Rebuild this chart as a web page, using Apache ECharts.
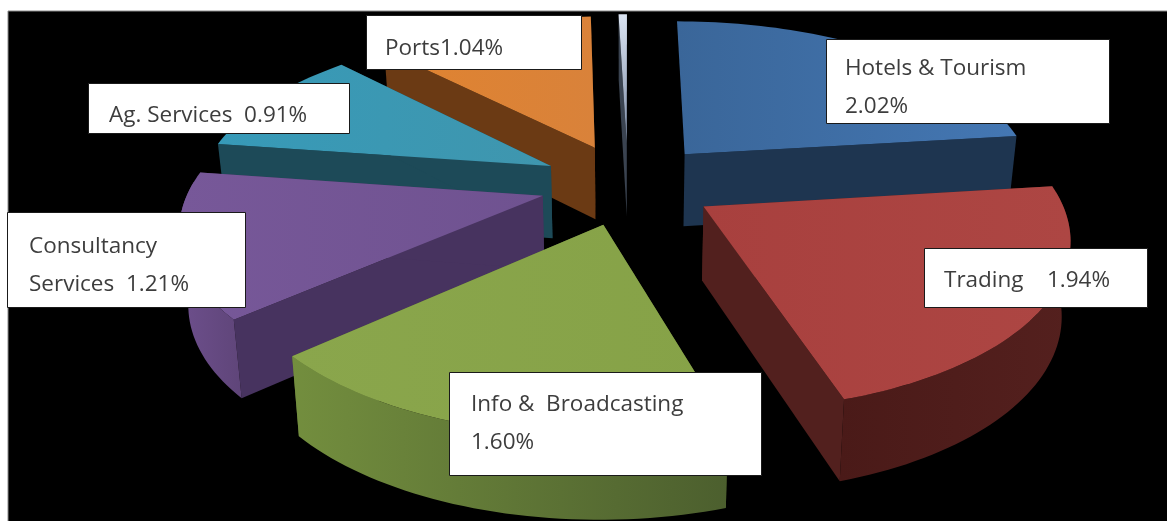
<!DOCTYPE html>
<html>
<head>
<meta charset="utf-8">
<style>html,body{margin:0;padding:0;background:#fff}#chart{width:1167px;height:521px}</style>
<script src="https://cdn.jsdelivr.net/npm/echarts@6/dist/echarts.min.js"></script>
</head>
<body>
<div id="chart"></div>
<script>
// Sector shares in percent, clockwise from twelve o'clock.
const categories = ['Hotels & Tourism', 'Trading', 'Info & Broadcasting', 'Consultancy Services', 'Ag. Services', 'Ports', 'Others'];
const shares = [2.02, 1.94, 1.60, 1.21, 0.91, 1.04, 0.04];
const labelTemplates = ['Hotels & Tourism\n{v}%', 'Trading    {v}%', 'Info &  Broadcasting\n{v}%', 'Consultancy\nServices  {v}%', 'Ag. Services  {v}%', 'Ports{v}%', null];

// [box x, box y, box width, box height, text x, first line centre y]
const labelBoxes = [
  [826, 39, 283, 84, 845, 69],
  [924, 248, 223, 59, 944, 281],
  [449, 372, 312, 103, 471, 405],
  [7, 212, 238, 95, 29, 247],
  [88, 83, 261, 50, 109, 116],
  [366, 15, 215, 54, 385, 49],
  null
];
const labelLineHeight = 38;
const labelFont = '22.5px "Open Sans"';

const topColors = [
  ['#3a6699', '#4477b3'], ['#a8403e', '#ad4643'], ['#8aa64c', '#86a247'],
  ['#775899', '#6f5290'], ['#379ab8', '#3f96ae'], ['#e08330', '#d9823a'], ['#8a99b4', '#dbe4f2']
];
const wallColors = [
  ['#1c3049', '#1c3049'], ['#4a1a18', '#54201e'], ['#738e3e', '#4c5f2e'],
  ['#6d4f8c', '#5f4579'], ['#1c4a58', '#1c4a58'], ['#6a3a14', '#6a3a14'], ['#556070', '#556070']
];
const cutColors = ['#1e3550', '#52201e', '#55692f', '#47335f', '#1d4a58', '#6b3a14', '#3a4350'];

// Perspective of the tilted disc, in axis units.
const EXPLODE = 0.25, PERSPECTIVE = 0.16, SHRINK = 0.98;

const total = shares.reduce((a, b) => a + b, 0);
let running = 0;
const sectors = shares.map((value, i) => {
  const start = running / total * 360;
  running += value;
  const end = running / total * 360;
  return { value: [start, end, i], mid: (start + end) / 2 };
});
// Sectors furthest from the viewer are painted first.
sectors.sort((a, b) => -Math.cos(a.mid * Math.PI / 180) + Math.cos(b.mid * Math.PI / 180));

const rad = d => d * Math.PI / 180;

function renderSector(params, api) {
  const start = api.value(0), end = api.value(1), idx = api.value(2);
  const mid = (start + end) / 2;
  const ox = EXPLODE * Math.sin(rad(mid)), oy = -EXPLODE * Math.cos(rad(mid));

  const top = (u, v) => {
    const s = 1 / (1 - PERSPECTIVE * (v + oy));
    return api.coord([(u + ox) * s, (v + oy) * s]);
  };
  const low = (u, v) => {
    const s = 1 / (1 - PERSPECTIVE * (v + oy));
    return api.coord([(u + ox) * s * SHRINK, (v + oy) * s + 0.19 + 0.258 * s]);
  };
  const rim = a => [Math.sin(rad(a)), -Math.cos(rad(a))];
  const arc = (a0, a1) => {
    const pts = [], n = Math.max(2, Math.ceil((a1 - a0) / 1.5));
    for (let k = 0; k <= n; k++) pts.push(rim(a0 + (a1 - a0) * k / n));
    return pts;
  };
  const grad = c => new echarts.graphic.LinearGradient(0, 0, 1, 0, [{ offset: 0, color: c[0] }, { offset: 1, color: c[1] }]);
  const vgrad = c => new echarts.graphic.LinearGradient(0, 0, 0, 1, [{ offset: 0, color: c[0] }, { offset: 1, color: c[1] }]);
  const poly = (points, fill) => ({ type: 'polygon', shape: { points }, style: { fill } });

  const children = [];
  // Radial cut faces; the one along twelve o'clock looks away from the viewer
  [start, end].filter(a => a > 5).forEach(a => {
    const p = rim(a);
    children.push(poly([top(0, 0), top(p[0], p[1]), low(p[0], p[1]), low(0, 0)], cutColors[idx]));
  });
  // Curved outer wall, only where it turns towards the viewer
  const a0 = Math.max(start, 85), a1 = Math.min(end, 275);
  if (a1 > a0) {
    const strip = arc(a0, a1);
    const wallPts = strip.map(p => top(p[0], p[1])).concat(strip.slice().reverse().map(p => low(p[0], p[1])));
    children.push(poly(wallPts, grad(wallColors[idx])));
  }
  // Upper face
  const face = [top(0, 0)].concat(arc(start, end).map(p => top(p[0], p[1])));
  const isThin = end - start < 5;
  children.push(poly(face, isThin ? vgrad(['#dbe4f2', '#7b8aa4']) : grad(topColors[idx])));
  return { type: 'group', children };
}

function renderLabel(params, api) {
  const i = api.value(0), b = labelBoxes[i];
  const text = labelTemplates[i].replace('{v}', shares[i].toFixed(2));
  const children = [{
    type: 'rect',
    shape: { x: b[0] + 0.5, y: b[1] + 0.5, width: b[2], height: b[3] },
    style: { fill: '#ffffff', stroke: '#1a1a1a', lineWidth: 1 }
  }];
  text.split('\n').forEach((line, k) => {
    children.push({
      type: 'text',
      style: { text: line, x: b[4], y: b[5] + k * labelLineHeight, font: labelFont, fill: '#3d3d3d', verticalAlign: 'middle', align: 'left' }
    });
  });
  return { type: 'group', children };
}

const chart = echarts.init(document.getElementById('chart'));
chart.setOption({
  animation: false,
  backgroundColor: '#ffffff',
  graphic: [{
    type: 'rect', z: 0, silent: true,
    shape: { x: 8, y: 11, width: 1160, height: 511 },
    style: { fill: '#000000', stroke: '#8a8a8a', lineWidth: 1 }
  }],
  grid: { left: 0, right: 0, top: 0, bottom: 0 },
  xAxis: { type: 'value', min: -628 / 352, max: (1167 - 628) / 352, show: false },
  yAxis: { type: 'value', inverse: true, min: -184 / 163, max: (521 - 184) / 163, show: false },
  series: [
    { type: 'custom', coordinateSystem: 'cartesian2d', renderItem: renderSector, data: sectors, encode: { x: 0, y: 1 }, clip: false, silent: true, z: 2 },
    {
      type: 'custom', coordinateSystem: 'none', renderItem: renderLabel, silent: true, z: 3,
      data: labelBoxes.map((b, i) => b ? [i] : null).filter(Boolean)
    }
  ]
});
</script>
</body>
</html>
